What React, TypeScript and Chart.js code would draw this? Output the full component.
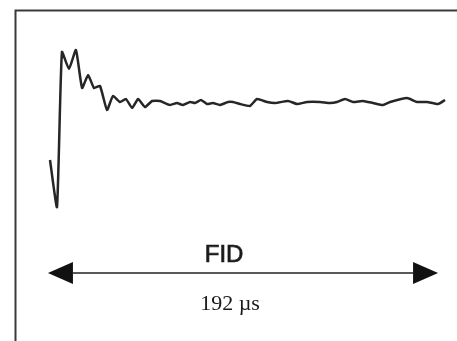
import React, { useEffect, useRef } from "react";
import { Chart, registerables } from "chart.js";

Chart.register(...registerables);

// time (µs) of each sample
const timeUs = [
  0, 3.4, 5.8, 9.2, 12.6, 15.6, 18.5, 21.4, 24.3, 27.7, 30.6, 34.0, 36.9, 39.9, 42.8, 46.2,
  49.6, 53.5, 58.3, 61.7, 64.6, 68.1, 70.5, 73.4, 76.3, 79.2, 82.6, 86.5, 88.9, 92.4, 97.2,
  100.6, 105.5, 109.4, 115.7, 120.1, 124.9, 131.2, 136.1, 139.5, 143.4, 147.3, 152.1, 157.0,
  161.9, 165.3, 173.5, 178.4, 183.3, 188.6, 192.0,
];
// FID amplitude (arbitrary units)
const amplitude = [
  -5.7, -10.4, 5.1, 3.4, 5.3, 1.5, 2.8, 1.5, 1.7, -0.7, 0.7, 0.1, 0.4, -0.5, 0.4, -0.4,
  0.2, 0.2, -0.2, 0.0, -0.2, 0.1, 0.0, 0.3, -0.1, 0.0, -0.2, 0.1, 0.1, -0.1, -0.3,
  0.4, 0.1, 0.0, 0.2, -0.1, 0.1, 0.1, 0.0, 0.1, 0.4, 0.1, 0.2, 0.0,
  -0.2, 0.1, 0.5, 0.1, 0.1, -0.1, 0.3,
];

const spanLabel = "FID";
const durationLabel = "192 µs";

// axis extents (data units)
const xMin = -24.3;
const xMax = 197.8;
const yMin = -23.8;
const yMax = 10.3;

// annotation positions (data units)
const frameX = -17;
const frameY = 9.3;
const arrowX0 = -1;
const arrowX1 = 188.6;
const arrowYv = -17;
const fidX = 84.6;
const durX = 87.5;
const fidY = -15.9;
const durY = -20.7;

const overlay = {
  id: "overlay",
  afterDatasetsDraw(chart: any) {
    const { ctx, scales } = chart;
    const xs = scales.x;
    const ys = scales.y;
    const W = chart.width;
    const H = chart.height;
    ctx.save();
    // frame (left + top)
    ctx.strokeStyle = "#3a3a3a";
    ctx.lineWidth = 2;
    const fx = Math.round(xs.getPixelForValue(frameX)) + 0.5;
    const fy = Math.round(ys.getPixelForValue(frameY)) + 0.5;
    ctx.beginPath();
    ctx.moveTo(fx, H);
    ctx.lineTo(fx, fy);
    ctx.lineTo(W, fy);
    ctx.stroke();

    // double arrow
    const ax0 = xs.getPixelForValue(arrowX0);
    const ax1 = xs.getPixelForValue(arrowX1);
    const ay = ys.getPixelForValue(arrowYv);
    const headL = 25;
    const headH = 11;
    ctx.strokeStyle = "#222";
    ctx.lineWidth = 1.5;
    ctx.beginPath();
    ctx.moveTo(ax0 + headL, ay);
    ctx.lineTo(ax1 - headL, ay);
    ctx.stroke();
    ctx.fillStyle = "#111";
    ctx.beginPath();
    ctx.moveTo(ax0, ay);
    ctx.lineTo(ax0 + headL, ay - headH);
    ctx.lineTo(ax0 + headL, ay + headH);
    ctx.closePath();
    ctx.fill();
    ctx.beginPath();
    ctx.moveTo(ax1, ay);
    ctx.lineTo(ax1 - headL, ay - headH);
    ctx.lineTo(ax1 - headL, ay + headH);
    ctx.closePath();
    ctx.fill();

    // labels
    ctx.fillStyle = "#1a1a1a";
    ctx.strokeStyle = "#1a1a1a";
    ctx.textAlign = "center";
    ctx.textBaseline = "alphabetic";
    ctx.font = "24px 'Liberation Sans', Arial, sans-serif";
    ctx.lineWidth = 0.7;
    ctx.fillText(spanLabel, xs.getPixelForValue(fidX), ys.getPixelForValue(fidY));
    ctx.strokeText(spanLabel, xs.getPixelForValue(fidX), ys.getPixelForValue(fidY));
    ctx.font = "22px 'Liberation Serif', 'Times New Roman', serif";
    ctx.fillText(durationLabel, xs.getPixelForValue(durX), ys.getPixelForValue(durY));
    ctx.restore();
  },
};

export default function App() {
  const ref = useRef<HTMLCanvasElement | null>(null);
  useEffect(() => {
    document.body.style.margin = "0";
    const canvas = ref.current;
    if (!canvas) return;
    const chart = new Chart(canvas, {
      type: "line",
      data: {
        datasets: [
          {
            data: timeUs.map((t, i) => ({ x: t, y: amplitude[i] })),
            borderColor: "#262626",
            borderWidth: 2.5,
            pointRadius: 0,
            tension: 0.15,
            fill: false,
          },
        ],
      },
      options: {
        animation: false,
        responsive: false,
        maintainAspectRatio: false,
        layout: { padding: 0 },
        plugins: { legend: { display: false }, tooltip: { enabled: false } },
        scales: {
          x: { type: "linear", min: xMin, max: xMax, display: false },
          y: { type: "linear", min: yMin, max: yMax, display: false },
        },
      },
      plugins: [overlay],
    });
    return () => chart.destroy();
  }, []);
  return (
    <div style={{ position: "fixed", left: 0, top: 0, width: 457, height: 341, background: "#fff" }}>
      <canvas ref={ref} width={457} height={341} style={{ display: "block", width: 457, height: 341 }} />
    </div>
  );
}
